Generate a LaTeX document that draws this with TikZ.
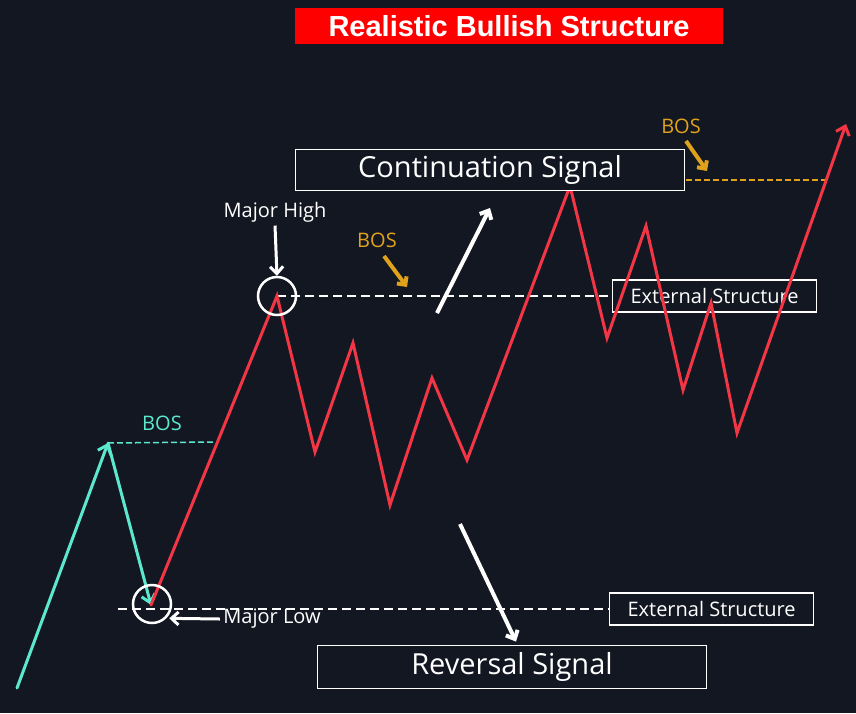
\documentclass[tikz,border=0pt]{standalone}
\usepackage{fontspec}
\setmainfont{Open Sans}
\newfontfamily\titlefont{Liberation Sans}
\usetikzlibrary{positioning, arrows.meta}
\definecolor{chartbg}{HTML}{131722}
\definecolor{bearred}{HTML}{F23645}
\definecolor{bullcyan}{HTML}{5CE8CF}
\definecolor{bosorange}{HTML}{E0A21B}
\definecolor{titlered}{HTML}{FF0000}

\begin{document}
\begin{tikzpicture}[x=1pt, y=-1pt,
    signalbox/.style={draw=white, line width=1.8pt, fill=chartbg, text=white,
      minimum width=389pt, minimum height=41pt, font=\fontsize{29}{33}\selectfont},
    extbox/.style={draw=white, line width=1.2pt, text=white, minimum width=204pt,
      minimum height=32pt, inner sep=0pt, font=\fontsize{20}{23}\selectfont},
    ring/.style={circle, draw=white, line width=2.5pt, minimum size=38pt, inner sep=0pt},
    leg/.style={line width=3pt, line join=miter, line cap=round},
    levelline/.style={white, line width=2.5pt, dash pattern=on 9pt off 5pt},
    thinlevel/.style={line width=1.5pt, dash pattern=on 6pt off 3pt},
    callout/.style={white, line width=3pt, -{Straight Barb[length=7pt, width=13pt]}},
    bosarrow/.style={bosorange, line width=4pt, -{Straight Barb[length=6pt, width=12pt]}},
    tag/.style={text=white, font=\fontsize{20}{23}\selectfont}]

  \useasboundingbox[fill=chartbg] (0,0) rectangle (856,713);

  % swing points of the price path
  \coordinate (s0) at (17,688);
  \coordinate (h1) at (108,443);
  \coordinate (l1) at (151,605);
  \coordinate (mh) at (277,296);
  \coordinate (p1) at (315,452);
  \coordinate (p2) at (353,343);
  \coordinate (p3) at (390,505);
  \coordinate (p4) at (432,378);
  \coordinate (p5) at (467,460);
  \coordinate (p6) at (570,186);
  \coordinate (p7) at (607,338);
  \coordinate (p8) at (646,226);
  \coordinate (p9) at (683,390);
  \coordinate (p10) at (711,303);
  \coordinate (p11) at (737,433);
  \coordinate (top) at (846,124);

  % boxes and labels
  \node[fill=titlered, text=white, minimum width=428pt, minimum height=36pt,
        font=\titlefont\bfseries\fontsize{29}{32}\selectfont] (title) at (509,26) {Realistic Bullish Structure};
  \node[extbox, anchor=west] (extup) at (612,296) {External Structure};
  \node[extbox, anchor=west] (extlow) at (609,609) {External Structure};

  % level lines
  \draw[thinlevel, bullcyan] (h1) -- (215,442);
  \draw[levelline] (mh) -- (extup.west);
  \draw[levelline] (118,609) -- (extlow.west);
  \coordinate (bosline) at (686,180);
  \draw[thinlevel, bosorange] (bosline) -- (826,180);

  % price legs
  \draw[leg, bullcyan, -{Straight Barb[length=8pt, width=14pt]}] (s0) -- (h1);
  \draw[leg, bullcyan, -{Straight Barb[length=8pt, width=14pt]}] (h1) -- (l1);
  \draw[leg, bearred, -{Straight Barb[length=8pt, width=14pt]}] (l1) -- (mh) -- (p1) -- (p2) -- (p3)
    -- (p4) -- (p5) -- (p6) -- (p7) -- (p8) -- (p9) -- (p10) -- (p11) -- (top);

  \node[signalbox] (contbox) at (490,170) {Continuation Signal};
  \node[signalbox, minimum height=43pt] (revbox) at (512,667) {Reversal Signal};

  % major swing markers
  \node[ring] (highring) at (mh) {};
  \node[ring] (lowring) at (152,604) {};
  \node[tag] (highlabel) at (275,212) {Major High};
  \node[tag] (lowlabel) at (272,619) {Major Low};
  \draw[callout] (highlabel.south) -- (highring.north);
  \draw[callout] (lowlabel.west) -- ([xshift=3pt]lowring.south east);

  % break of structure tags
  \node[text=bullcyan, font=\fontsize{20}{23}\selectfont] (bosone) at (162,423) {BOS};
  \node[text=bosorange, font=\fontsize{20}{23}\selectfont] (bostwo) at (377,240) {BOS};
  \node[text=bosorange, font=\fontsize{20}{23}\selectfont] (bosthree) at (681,126) {BOS};
  \draw[bosarrow] (384,256) -- (407,287);
  \draw[bosarrow] (686,141) -- (707,171);

  % signal arrows
  \draw[callout, line width=4pt] (437,313) -- (490,208);
  \draw[callout, line width=4pt] (460,524) -- ([xshift=4pt, yshift=3pt]revbox.north);
\end{tikzpicture}
\end{document}
